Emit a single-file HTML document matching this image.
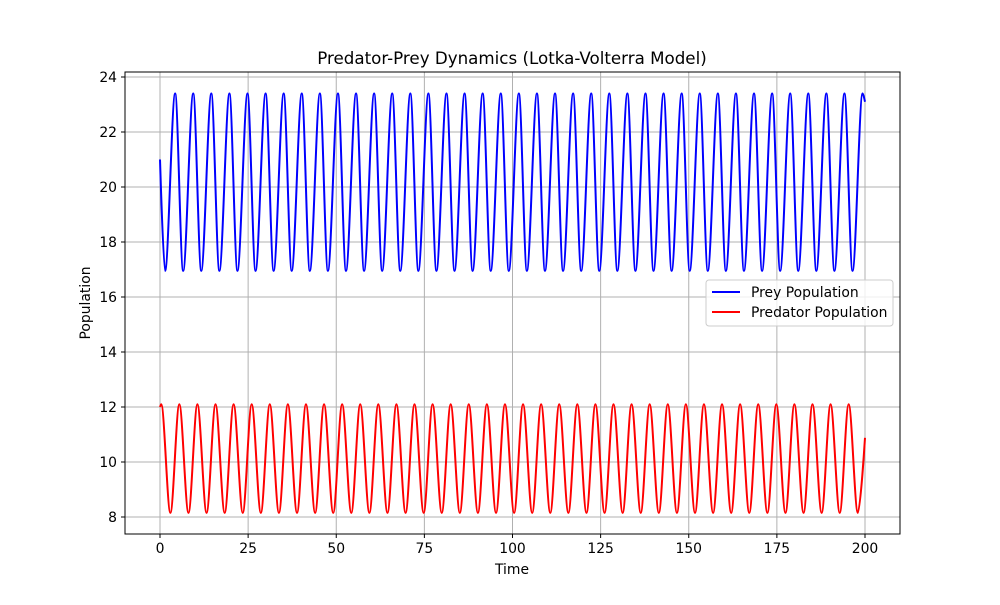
<!DOCTYPE html>
<html><head><meta charset="utf-8"><style>
body{margin:0;background:#fff}
svg text{font-family:"DejaVu Sans","Liberation Sans",sans-serif;fill:#000}
</style></head><body>
<svg id="chart" width="1000" height="600" xmlns="http://www.w3.org/2000/svg">
<rect width="1000" height="600" fill="#fff"/>
<g id="grid"></g>
<g id="series"></g>
<rect x="125" y="72" width="775" height="462" fill="none" stroke="#000" stroke-width="1"/>
<g id="ticks"></g>
<text x="512" y="64" font-size="16.7" text-anchor="middle">Predator-Prey Dynamics (Lotka-Volterra Model)</text>
<text x="512" y="574" font-size="13.9" text-anchor="middle">Time</text>
<text transform="translate(90,303) rotate(-90)" font-size="13.9" text-anchor="middle">Population</text>
<g>
<rect x="706" y="280" width="187" height="46" rx="3" fill="#fff" fill-opacity="0.8" stroke="#ccc"/>
<g><line x1="712" y1="292" x2="740" y2="292" stroke="#0000ff" stroke-width="2"/><text x="751" y="297" font-size="13.9">Prey Population</text></g>
<g><line x1="712" y1="312" x2="740" y2="312" stroke="#ff0000" stroke-width="2"/><text x="751" y="317" font-size="13.9">Predator Population</text></g>
</g>
</svg>
<script>
const xTicks=[0,25,50,75,100,125,150,175,200];
const yTicks=[8,10,12,14,16,18,20,22,24];
const preyStart=[0,21.0];
const preyEnd=[200,23.1];
const preyPeakValue=23.4;
const preyTroughValue=16.95;
const preyPeakTimes=[4.30,9.43,14.56,19.70,24.83,29.96,35.09,40.22,45.36,50.49,55.62,60.75,65.88,71.02,76.15,81.28,86.41,91.54,96.68,101.81,106.94,112.07,117.20,122.34,127.47,132.60,137.73,142.86,148.00,153.13,158.26,163.39,168.52,173.66,178.79,183.92,189.05,194.18,199.32];
const preyTroughTimes=[1.44,6.57,11.70,16.84,21.97,27.10,32.23,37.36,42.50,47.63,52.76,57.89,63.02,68.16,73.29,78.42,83.55,88.68,93.82,98.95,104.08,109.21,114.34,119.48,124.61,129.74,134.87,140.00,145.14,150.27,155.40,160.53,165.66,170.80,175.93,181.06,186.19,191.32,196.46];
const predStart=[0,12.0];
const predEnd=[200,10.88];
const predPeakValue=12.1;
const predTroughValue=8.15;
const predPeakTimes=[0.35,5.48,10.61,15.75,20.88,26.01,31.14,36.27,41.41,46.54,51.67,56.80,61.93,67.07,72.20,77.33,82.46,87.59,92.73,97.86,102.99,108.12,113.25,118.39,123.52,128.65,133.78,138.91,144.05,149.18,154.31,159.44,164.57,169.71,174.84,179.97,185.10,190.23,195.37];
const predTroughTimes=[2.95,8.08,13.21,18.35,23.48,28.61,33.74,38.87,44.01,49.14,54.27,59.40,64.53,69.67,74.80,79.93,85.06,90.19,95.33,100.46,105.59,110.72,115.85,120.99,126.12,131.25,136.38,141.51,146.65,151.78,156.91,162.04,167.17,172.31,177.44,182.57,187.70,192.83,197.97];

const NS='http://www.w3.org/2000/svg';
const xs=t=>160+t*3.525;
const ys=v=>517-(v-8)*27.5;
const grid=document.getElementById('grid'),ticks=document.getElementById('ticks'),series=document.getElementById('series');
function mk(tag,attrs,parent){const e=document.createElementNS(NS,tag);for(const k in attrs)e.setAttribute(k,attrs[k]);parent.appendChild(e);return e;}
xTicks.forEach(t=>{
  const g=mk('line',{x1:xs(t),x2:xs(t),y1:72,y2:534,stroke:'#b0b0b0','stroke-width':1},grid);
  
  
  const tk=mk('line',{x1:xs(t),x2:xs(t),y1:534,y2:538,stroke:'#000'},ticks);
  
  
  const tx=mk('text',{x:xs(t),y:553,'font-size':13.9,'text-anchor':'middle'},ticks);
  tx.textContent=t;
  
  
});
yTicks.forEach(v=>{
  const g=mk('line',{x1:125,x2:900,y1:ys(v),y2:ys(v),stroke:'#b0b0b0','stroke-width':1},grid);
  
  
  const tk=mk('line',{x1:121,x2:125,y1:ys(v),y2:ys(v),stroke:'#000'},ticks);
  
  
  const tx=mk('text',{x:117,y:ys(v)+5,'font-size':13.9,'text-anchor':'end'},ticks);
  tx.textContent=v;
  
  
});
function build(start,end,pT,pV,tT,tV){
  let pts=[[start[0],start[1],0]];
  pT.forEach(t=>pts.push([t,pV,1]));
  tT.forEach(t=>pts.push([t,tV,1]));
  pts.sort((a,b)=>a[0]-b[0]);
  pts.push([end[0],end[1],0]);
  let d='M'+xs(pts[0][0]).toFixed(2)+','+ys(pts[0][1]).toFixed(2);
  for(let i=1;i<pts.length;i++){
    const a=pts[i-1],b=pts[i];
    const x0=xs(a[0]),y0=ys(a[1]),x1=xs(b[0]),y1=ys(b[1]);
    const dx=(x1-x0)/3;
    const c1=a[2]?[x0+dx,y0]:[x0,y0];
    const c2=b[2]?[x1-dx,y1]:[x1,y1];
    d+=' C'+c1[0].toFixed(2)+','+c1[1].toFixed(2)+' '+c2[0].toFixed(2)+','+c2[1].toFixed(2)+' '+x1.toFixed(2)+','+y1.toFixed(2);
  }
  return d;
}
const prey=mk('path',{d:build(preyStart,preyEnd,preyPeakTimes,preyPeakValue,preyTroughTimes,preyTroughValue),fill:'none',stroke:'#0000ff','stroke-width':2},series);


const pred=mk('path',{d:build(predStart,predEnd,predPeakTimes,predPeakValue,predTroughTimes,predTroughValue),fill:'none',stroke:'#ff0000','stroke-width':2},series);


</script>
</body></html>
